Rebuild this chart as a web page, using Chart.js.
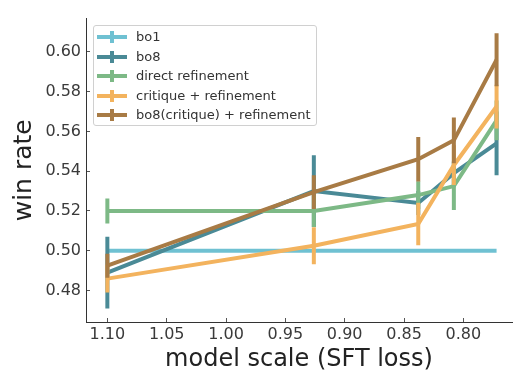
<!DOCTYPE html>
<html>
<head>
<meta charset="utf-8">
<script src="https://cdn.jsdelivr.net/npm/chart.js@4.4.1/dist/chart.umd.min.js"></script>
<style>
  html, body { margin: 0; padding: 0; background: #fff; }
  #wrap { position: relative; width: 527px; height: 381px; }
  #legend {
    position: absolute; left: 93px; top: 25px; width: 222px; height: 99px;
    border: 1px solid #d0d0d0; border-radius: 3px; background: rgba(255,255,255,0.85);
    font-family: 'DejaVu Sans', sans-serif; font-size: 13px; color: #333;
  }
  .row { position: absolute; left: 0; height: 20px; width: 100%; }
  .hbar { position: absolute; left: 3px; width: 30px; height: 4px; top: 8px; }
  .vbar { position: absolute; left: 16px; width: 4px; height: 12px; top: 4px; }
  .lbl { position: absolute; left: 42px; top: 1px; white-space: nowrap; line-height: 18px; }
</style>
</head>
<body>
<div id="wrap">
  <canvas id="c" width="527" height="381"></canvas>
  <div id="legend"></div>
</div>
<script>
// ---- data ----
const xValues = [1.10, 0.926, 0.838, 0.808, 0.772];
const seriesNames = ['bo1', 'bo8', 'direct refinement', 'critique + refinement', 'bo8(critique) + refinement'];
const bo1 = [0.500, 0.500, 0.500, 0.500, 0.500];
const bo1Err = [0, 0, 0, 0, 0];
const bo8 = [0.489, 0.530, 0.524, 0.539, 0.554];
const bo8Err = [0.018, 0.018, 0.006, 0.006, 0.016];
const direct = [0.520, 0.520, 0.528, 0.5325, 0.5655];
const directErr = [0.0063, 0.008, 0.007, 0.012, 0.010];
const critique = [0.486, 0.5025, 0.5135, 0.543, 0.5725];
const critiqueErr = [0.007, 0.0093, 0.0107, 0.010, 0.011];
const bo8crit = [0.4925, 0.5295, 0.546, 0.5555, 0.596];
const bo8critErr = [0.006, 0.0085, 0.0112, 0.0115, 0.0133];
const xTicks = [1.10, 1.05, 1.00, 0.95, 0.90, 0.85, 0.80];
const yTicks = [0.48, 0.50, 0.52, 0.54, 0.56, 0.58, 0.60];

// ---- styles ----
const colors = ['#6fc1d2', '#4a8a96', '#7db986', '#f3b35e', '#a87b45'];
const allVals = [bo1, bo8, direct, critique, bo8crit];
const allErrs = [bo1Err, bo8Err, directErr, critiqueErr, bo8critErr];

const datasets = [];
allVals.forEach((vals, i) => {
  const n = allVals.length;
  datasets.push({
    label: seriesNames[i],
    data: xValues.map((x, k) => ({ x: x, y: vals[k] })),
    borderColor: colors[i], backgroundColor: colors[i],
    borderWidth: 4, pointRadius: 0, tension: 0, fill: false,
    order: (n - i) * 2
  });
  const errData = [];
  xValues.forEach((x, k) => {
    const e = allErrs[i][k];
    if (e > 0) {
      errData.push({ x: x, y: vals[k] - e });
      errData.push({ x: x, y: vals[k] + e });
      errData.push({ x: x, y: null });
    }
  });
  datasets.push({
    label: seriesNames[i] + ' err',
    data: errData,
    borderColor: colors[i], backgroundColor: colors[i],
    borderWidth: 4, pointRadius: 0, spanGaps: false, fill: false,
    borderCapStyle: 'butt',
    order: (n - i) * 2 - 1
  });
});

const fontFamily = "'DejaVu Sans', sans-serif";
const textColor = '#3a3a3a';

new Chart(document.getElementById('c'), {
  type: 'line',
  data: { datasets: datasets },
  options: {
    responsive: false,
    animation: false,
    layout: { padding: { left: 0, right: 15, top: 17, bottom: 0 } },
    plugins: { legend: { display: false }, tooltip: { enabled: false } },
    scales: {
      x: {
        type: 'linear', reverse: true, min: 0.759, max: 1.118,
        afterBuildTicks: s => { s.ticks = xTicks.map(v => ({ value: v })); },
        afterFit: s => { s.height = 59; },
        ticks: { color: textColor, font: { family: fontFamily, size: 16 }, padding: 7,
                 callback: v => Number(v).toFixed(2), maxRotation: 0, autoSkip: false },
        grid: { drawOnChartArea: false, drawTicks: true, tickLength: -4, color: '#555' },
        border: { display: true, color: '#333', width: 1 },
        title: { display: true, text: 'model scale (SFT loss)', color: '#222',
                 font: { family: fontFamily, size: 24 }, padding: { top: 0, bottom: 7 } }
      },
      y: {
        type: 'linear', min: 0.4642, max: 0.6167,
        afterBuildTicks: s => { s.ticks = yTicks.map(v => ({ value: v })); },
        afterFit: s => { s.width = 86; },
        ticks: { color: textColor, font: { family: fontFamily, size: 16 }, padding: 9,
                 callback: v => Number(v).toFixed(2), autoSkip: false },
        grid: { drawOnChartArea: false, drawTicks: true, tickLength: -4, color: '#555' },
        border: { display: true, color: '#333', width: 1 },
        title: { display: true, text: 'win rate', color: '#222',
                 font: { family: fontFamily, size: 25 }, padding: { top: 9, bottom: 0 } }
      }
    }
  }
});

// HTML legend
const leg = document.getElementById('legend');
seriesNames.forEach((name, i) => {
  const row = document.createElement('div');
  row.className = 'row';
  row.style.top = (1 + i * 19.6) + 'px';
  const h = document.createElement('div'); h.className = 'hbar'; h.style.background = colors[i];
  const v = document.createElement('div'); v.className = 'vbar'; v.style.background = colors[i];
  const t = document.createElement('div'); t.className = 'lbl'; t.textContent = name;
  row.appendChild(h); row.appendChild(v); row.appendChild(t);
  leg.appendChild(row);
});
</script>
</body>
</html>
